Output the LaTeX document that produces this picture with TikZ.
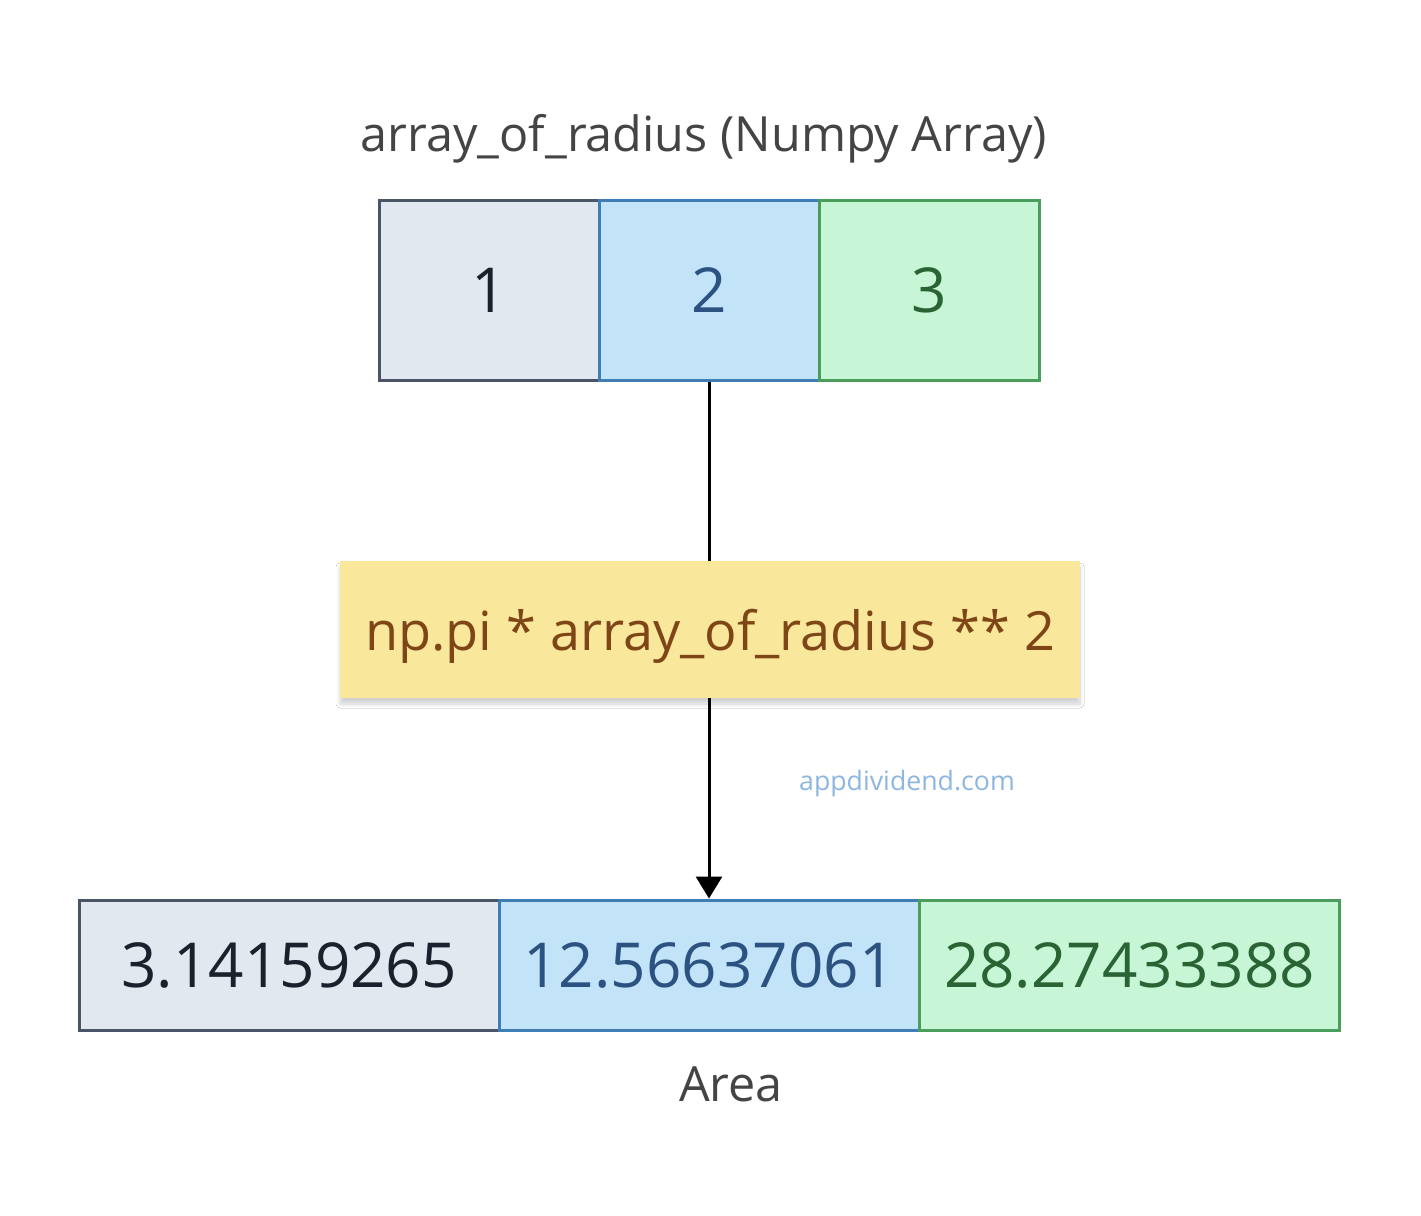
\documentclass[tikz,border=0pt]{standalone}
\usepackage{fontspec}
\setmainfont{Open Sans}
\usetikzlibrary{arrows.meta,shadows.blur}
\definecolor{grayfill}{HTML}{E2E8F0}
\definecolor{grayline}{HTML}{4A5568}
\definecolor{graytext}{HTML}{1A202C}
\definecolor{bluefill}{HTML}{C3E4F8}
\definecolor{blueline}{HTML}{3F7DB5}
\definecolor{bluetext}{HTML}{2C5282}
\definecolor{greenfill}{HTML}{C6F6D5}
\definecolor{greenline}{HTML}{4A9D5A}
\definecolor{greentext}{HTML}{2A6334}
\definecolor{yelfill}{HTML}{F9E79B}
\definecolor{yeltext}{HTML}{7E4517}
\definecolor{titletext}{HTML}{444444}
\definecolor{wmtext}{HTML}{8DB6E0}
\tikzset{
  cell/.style={draw, line width=3pt, inner sep=0pt, minimum height=180pt, minimum width=220pt, font=\fontsize{62}{70}\selectfont},
  bigcell/.style={draw, line width=3pt, inner sep=0pt, minimum height=130pt, minimum width=420pt, font=\fontsize{62}{70}\selectfont},
  gcell/.style={fill=grayfill, draw=grayline, text=graytext},
  bcell/.style={fill=bluefill, draw=blueline, text=bluetext},
  ccell/.style={fill=greenfill, draw=greenline, text=greentext},
  formula/.style={fill=yelfill, text=yeltext, inner sep=0pt, minimum width=740pt, minimum height=137pt,
    text height=41pt, text depth=0pt, font=\fontsize{54}{62}\selectfont,
    blur shadow={shadow xshift=0pt, shadow yshift=-6pt, shadow blur radius=4pt, shadow blur steps=10, shadow opacity=18}},
  label/.style={text=titletext, inner sep=0pt},
  conn/.style={line width=3pt, black}
}
\begin{document}
\begin{tikzpicture}[x=1pt,y=1pt]
\useasboundingbox[fill=white] (0,0) rectangle (1421,-1215);
\node[label, font=\fontsize{48.5}{56}\selectfont] (title) at (704,-139) {array\_of\_radius (Numpy Array)};
\node[cell, gcell] (a1) at (489,-290) {1};
\node[cell, bcell] (a2) at (709,-290) {2};
\node[cell, ccell] (a3) at (929.5,-290) {3};
\node[formula] (f) at (710,-629.5) {np.pi * array\_of\_radius ** 2};
\node[bigcell, gcell] (b1) at (289,-965) {3.14159265};
\node[bigcell, bcell] (b2) at (709,-965) {12.56637061};
\node[bigcell, ccell] (b3) at (1129.5,-965) {28.27433388};
\node[label, font=\fontsize{48.5}{56}\selectfont] (area) at (731,-1084) {Area};
\node[text=wmtext, inner sep=0pt, font=\fontsize{26.7}{32}\selectfont] (wm) at (907,-784) {appdividend.com};
\draw[conn] (a2.south) -- (a2.south |- f.north);
\draw[conn, -{Triangle[length=22pt,width=26pt]}] (a2.south |- f.south) -- (a2.south |- b2.north);
\end{tikzpicture}
\end{document}
